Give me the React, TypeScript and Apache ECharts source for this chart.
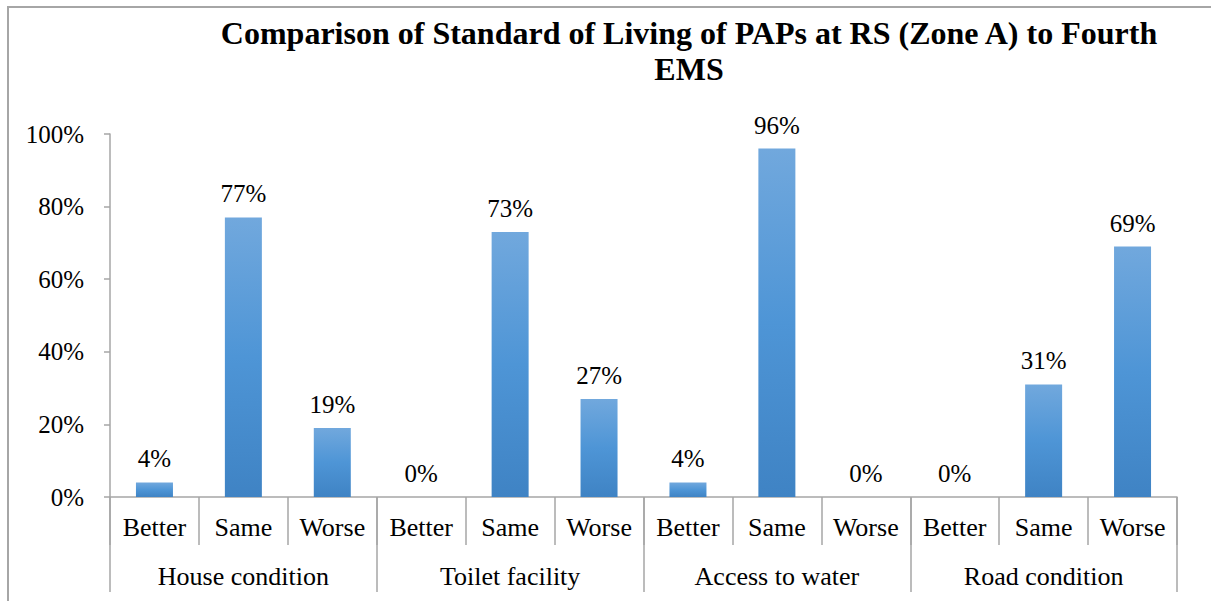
import React, { useEffect, useRef } from "react";
import * as echarts from "echarts";

const groups = ["House condition", "Toilet facility", "Access to water", "Road condition"];
const subCategories = ["Better", "Same", "Worse"];
const values = [4, 77, 19, 0, 73, 27, 4, 96, 0, 0, 31, 69];
const yTicks = { min: 0, max: 100, interval: 20 };
const titleText = "Comparison of Standard of Living of PAPs at RS (Zone A) to Fourth\nEMS";

const FONT = "'Liberation Serif', 'Times New Roman', serif";
const GRAY = "#a6a6a6";

export default function App() {
  const ref = useRef<HTMLDivElement>(null);
  useEffect(() => {
    if (!ref.current) return;
    const chart = echarts.init(ref.current, undefined, { renderer: "svg" });
    const cats: string[] = [];
    groups.forEach(() => subCategories.forEach((s) => cats.push(s)));
    chart.setOption({
      animation: false,
      backgroundColor: "#fff",
      textStyle: { fontFamily: FONT, color: "#000" },
      title: {
        text: titleText,
        left: 684,
        top: 10,
        textAlign: "center",
        textStyle: { fontFamily: FONT, fontWeight: "bold", fontSize: 32, lineHeight: 36, color: "#000" },
      },
      graphic: [
        {
          type: "rect",
          shape: { x: 8, y: 7, width: 1400, height: 800 },
          style: { fill: "none", stroke: GRAY, lineWidth: 2 },
          silent: true,
        },
      ],
      grid: { left: 110, right: 34, top: 134, bottom: 104 },
      xAxis: [
        {
          type: "category",
          data: cats,
          position: "bottom",
          axisLine: { show: true, lineStyle: { color: GRAY, width: 1.5 } },
          axisTick: { show: true, interval: 0, length: 48, lineStyle: { color: GRAY, width: 1.5 } },
          axisLabel: { interval: 0, margin: 17, fontSize: 26, fontFamily: FONT, color: "#000" },
        },
        {
          type: "category",
          data: groups,
          position: "bottom",
          axisLine: { show: false },
          axisTick: { show: true, interval: 0, length: 95, lineStyle: { color: GRAY, width: 1.5 } },
          axisLabel: { interval: 0, margin: 66, fontSize: 26, fontFamily: FONT, color: "#000" },
        },
      ],
      yAxis: {
        type: "value",
        min: yTicks.min,
        max: yTicks.max,
        interval: yTicks.interval,
        axisLine: { show: true, lineStyle: { color: GRAY, width: 1.5 } },
        axisTick: { show: true, length: 6, lineStyle: { color: GRAY, width: 1.5 } },
        splitLine: { show: false },
        axisLabel: { formatter: "{value}%", margin: 26, fontSize: 25, fontFamily: FONT, color: "#000" },
      },
      series: [
        {
          type: "bar",
          xAxisIndex: 0,
          data: values,
          barWidth: 37,
          itemStyle: {
            color: new echarts.graphic.LinearGradient(0, 0, 0, 1, [
              { offset: 0, color: "#71a8dd" },
              { offset: 0.5, color: "#4e95d6" },
              { offset: 1, color: "#3f83c4" },
            ]),
          },
          label: {
            show: true,
            position: "top",
            distance: 11,
            formatter: "{c}%",
            fontSize: 25,
            fontFamily: FONT,
            color: "#000",
          },
        },
      ],
    });
    return () => chart.dispose();
  }, []);
  return <div ref={ref} style={{ position: "absolute", left: 0, top: 0, width: 1211, height: 601 }} />;
}
